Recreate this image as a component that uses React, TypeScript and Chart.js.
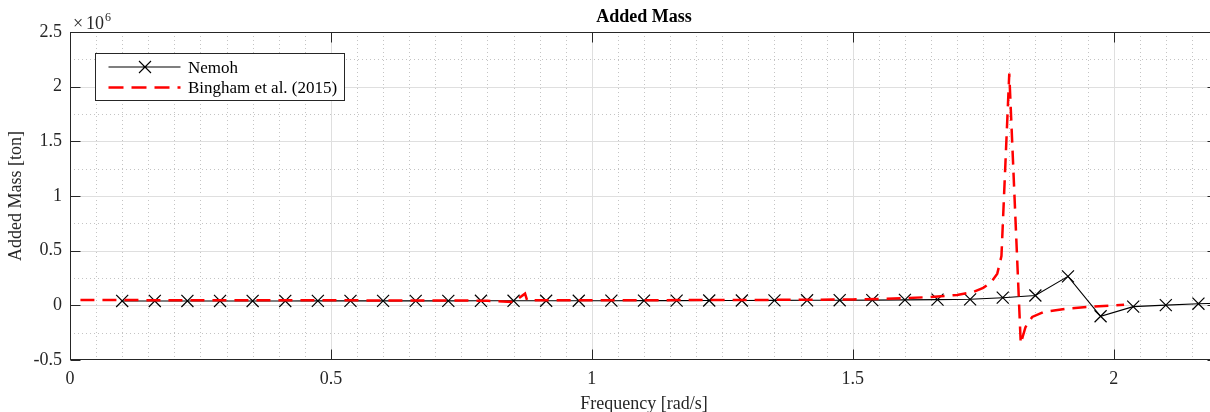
import React, { useEffect, useRef } from 'react';
import { Chart, registerables } from 'chart.js';

Chart.register(...registerables);

// ---- Data (frequency in rad/s, added mass in ton) ----
const nemohFreq = [
  0.1, 0.1625, 0.225, 0.2875, 0.35, 0.4125, 0.475, 0.5375, 0.6, 0.6625,
  0.725, 0.7875, 0.85, 0.9125, 0.975, 1.0375, 1.1, 1.1625, 1.225, 1.2875,
  1.35, 1.4125, 1.475, 1.5375, 1.6, 1.6625, 1.725, 1.7875, 1.85, 1.9125,
  1.975, 2.0375, 2.1, 2.1625, 2.225,
];
const nemohMass = [
  40000, 40000, 40000, 40000, 40000, 40000, 40500, 40500, 41000, 41000,
  41000, 41500, 41500, 42000, 42000, 42500, 43000, 43500, 44000, 44500,
  45000, 46000, 47000, 48000, 50000, 52000, 55000, 70000, 90000, 265000,
  -100000, -12000, 2000, 15000, 22000,
];

const binghamFreq = [
  0.02, 0.1, 0.2, 0.3, 0.4, 0.5, 0.6, 0.7, 0.8, 0.85,
  0.872, 0.876, 0.9, 1.0, 1.1, 1.2, 1.3, 1.4, 1.5, 1.55,
  1.6, 1.65, 1.7, 1.73, 1.75, 1.765, 1.777, 1.785, 1.8, 1.822,
  1.831, 1.844, 1.866, 1.911, 1.95, 2.0, 2.02,
];
const binghamMass = [
  48000, 48000, 47000, 47000, 46000, 46000, 45000, 45000, 42000, 30000,
  107000, 45000, 46000, 46000, 47000, 48000, 49000, 51000, 54000, 58000,
  66000, 76000, 95000, 120000, 160000, 210000, 290000, 450000, 2120000, -350000,
  -200000, -106000, -60000, -30000, -15000, 0, 6000,
];

const xTickLabels = ['0', '0.5', '1', '1.5', '2'];
const yTickLabels = ['-0.5', '0', '0.5', '1', '1.5', '2', '2.5'];
const seriesNames = ['Nemoh', 'Bingham et al. (2015)'];

const FONT = "'Liberation Serif', 'Times New Roman', serif";
const AXIS = '#262626';

const framePlugin = {
  id: 'matlabFrame',
  beforeDatasetsDraw(chart: any) {
    const { ctx, chartArea: a, scales } = chart;
    const xs = scales.x;
    const ys = scales.y;
    const vline = (v: number) => {
      const px = Math.round(xs.getPixelForValue(v)) + 0.5;
      ctx.beginPath();
      ctx.moveTo(px, a.top);
      ctx.lineTo(px, a.bottom);
      ctx.stroke();
    };
    const hline = (v: number) => {
      const py = Math.round(ys.getPixelForValue(v)) + 0.5;
      ctx.beginPath();
      ctx.moveTo(a.left, py);
      ctx.lineTo(a.right, py);
      ctx.stroke();
    };
    ctx.save();
    ctx.lineWidth = 1;
    // minor dotted grid
    ctx.strokeStyle = '#c4c4c4';
    ctx.setLineDash([1, 3]);
    for (let i = 1; i < 44; i++) {
      if (i % 10 === 0) continue;
      vline(i * 0.05);
    }
    for (let i = -1; i <= 9; i += 2) hline(i * 250000);
    // major grid
    ctx.setLineDash([]);
    ctx.strokeStyle = '#dfdfdf';
    for (let i = 1; i < xTickLabels.length; i++) vline(Number(xTickLabels[i]));
    for (let i = 1; i < yTickLabels.length - 1; i++) hline(Number(yTickLabels[i]) * 1e6);
    ctx.restore();
  },
  afterDatasetsDraw(chart: any) {
    const { ctx, chartArea: a, scales } = chart;
    const xs = scales.x;
    const ys = scales.y;
    ctx.save();
    ctx.strokeStyle = AXIS;
    ctx.lineWidth = 1;
    ctx.setLineDash([]);
    const L = Math.round(a.left) + 0.5;
    const R = Math.round(a.right) - 0.5;
    const T = Math.round(a.top) + 0.5;
    const B = Math.round(a.bottom) - 0.5;
    ctx.strokeRect(L, T, R - L, B - T);
    const tick = 10;
    ctx.beginPath();
    for (let i = 0; i < xTickLabels.length; i++) {
      const px = Math.round(xs.getPixelForValue(Number(xTickLabels[i]))) + 0.5;
      ctx.moveTo(px, B);
      ctx.lineTo(px, B - tick);
      ctx.moveTo(px, T);
      ctx.lineTo(px, T + tick);
    }
    for (let i = 0; i < yTickLabels.length; i++) {
      const py = Math.round(ys.getPixelForValue(Number(yTickLabels[i]) * 1e6)) + 0.5;
      ctx.moveTo(L, py);
      ctx.lineTo(L + tick, py);
      ctx.moveTo(R, py);
      ctx.lineTo(R - tick, py);
    }
    ctx.stroke();

    // exponent label
    ctx.fillStyle = AXIS;
    ctx.textAlign = 'left';
    ctx.textBaseline = 'alphabetic';
    ctx.font = `18px ${FONT}`;
    ctx.fillText('\u00d7', a.left + 3, a.top - 3.5);
    ctx.fillText('10', a.left + 16, a.top - 3.5);
    const w = ctx.measureText('10').width;
    ctx.font = `12px ${FONT}`;
    ctx.fillText('6', a.left + 16 + w + 1, a.top - 11.5);

    // legend
    const lx = a.left + 25.5;
    const ly = a.top + 21.5;
    const lw = 249;
    const lh = 47;
    ctx.fillStyle = '#ffffff';
    ctx.fillRect(lx, ly, lw, lh);
    ctx.strokeStyle = AXIS;
    ctx.lineWidth = 1;
    ctx.strokeRect(lx, ly, lw, lh);
    const r1 = ly + 13.5;
    const r2 = ly + 34;
    // Nemoh sample
    ctx.strokeStyle = '#000';
    ctx.lineWidth = 1.1;
    ctx.beginPath();
    ctx.moveTo(lx + 13, r1);
    ctx.lineTo(lx + 85, r1);
    const cx = lx + 49.5;
    const s = 6;
    ctx.moveTo(cx - s, r1 - s);
    ctx.lineTo(cx + s, r1 + s);
    ctx.moveTo(cx - s, r1 + s);
    ctx.lineTo(cx + s, r1 - s);
    ctx.stroke();
    // Bingham sample
    ctx.strokeStyle = '#ff0000';
    ctx.lineWidth = 2.5;
    ctx.setLineDash([15, 8]);
    ctx.beginPath();
    ctx.moveTo(lx + 13, r2);
    ctx.lineTo(lx + 85, r2);
    ctx.stroke();
    ctx.setLineDash([]);
    ctx.fillStyle = '#000';
    ctx.font = `17px ${FONT}`;
    ctx.textBaseline = 'middle';
    ctx.fillText(seriesNames[0], lx + 92.5, r1 + 1.5);
    ctx.fillText(seriesNames[1], lx + 92.5, r2 + 1);
    ctx.restore();
  },
};

export default function App() {
  const canvasRef = useRef<HTMLCanvasElement | null>(null);

  useEffect(() => {
    const canvas = canvasRef.current;
    if (!canvas) return;
    const chart = new Chart(canvas, {
      type: 'line',
      data: {
        datasets: [
          {
            label: seriesNames[0],
            data: nemohFreq.map((f, i) => ({ x: f, y: nemohMass[i] })),
            borderColor: '#000000',
            backgroundColor: '#000000',
            borderWidth: 1.1,
            pointStyle: 'crossRot',
            pointRadius: 8.5,
            pointBorderWidth: 1.2,
            pointBorderColor: '#000000',
            tension: 0,
            fill: false,
            order: 2,
          },
          {
            label: seriesNames[1],
            data: binghamFreq.map((f, i) => ({ x: f, y: binghamMass[i] })),
            borderColor: '#ff0000',
            backgroundColor: '#ff0000',
            borderWidth: 2.5,
            borderDash: [14, 8],
            pointRadius: 0,
            tension: 0,
            fill: false,
            order: 1,
          },
        ],
      },
      options: {
        responsive: false,
        animation: false,
        devicePixelRatio: 1,
        layout: { padding: { left: 0, right: 22, top: 0, bottom: 0 } },
        plugins: {
          legend: { display: false },
          tooltip: { enabled: false },
          title: {
            display: true,
            text: 'Added Mass',
            fullSize: false,
            color: '#000000',
            font: { family: FONT, size: 18, weight: 'bold', lineHeight: 1.2 },
            padding: { top: 6.8, bottom: 3.6 },
          },
        },
        scales: {
          x: {
            type: 'linear',
            min: 0,
            max: 2.2,
            afterFit: (scale: any) => {
              scale.height = 60;
            },
            grid: { display: false, drawTicks: false },
            border: { display: false },
            ticks: {
              stepSize: 0.5,
              includeBounds: false,
              autoSkip: false,
              maxRotation: 0,
              padding: 8.8,
              color: AXIS,
              font: { family: FONT, size: 18 },
              callback: (v: any) => {
                const idx = xTickLabels.findIndex((t) => Math.abs(Number(t) - v) < 1e-9);
                return idx >= 0 ? xTickLabels[idx] : '';
              },
            },
            title: {
              display: true,
              text: 'Frequency [rad/s]',
              color: AXIS,
              font: { family: FONT, size: 18, lineHeight: 1.2 },
              padding: { top: 0, bottom: 5.2 },
            },
          },
          y: {
            type: 'linear',
            min: -500000,
            max: 2500000,
            afterFit: (scale: any) => {
              scale.width = 70;
            },
            grid: { display: false, drawTicks: false },
            border: { display: false },
            ticks: {
              stepSize: 500000,
              includeBounds: false,
              autoSkip: false,
              padding: 8,
              color: AXIS,
              font: { family: FONT, size: 18 },
              callback: (v: any) => {
                const idx = yTickLabels.findIndex((t) => Math.abs(Number(t) * 1e6 - v) < 1);
                return idx >= 0 ? yTickLabels[idx] : '';
              },
            },
            title: {
              display: true,
              text: 'Added Mass [ton]',
              color: AXIS,
              font: { family: FONT, size: 18, lineHeight: 1.2 },
              padding: { top: 5.7, bottom: 0 },
            },
          },
        },
      },
      plugins: [framePlugin],
    } as any);
    return () => chart.destroy();
  }, []);

  return (
    <div
      style={{
        position: 'fixed',
        left: 0,
        top: 0,
        width: 1210,
        height: 412,
        overflow: 'hidden',
        background: '#ffffff',
      }}
    >
      <canvas ref={canvasRef} width={1240} height={420} style={{ display: 'block' }} />
    </div>
  );
}
